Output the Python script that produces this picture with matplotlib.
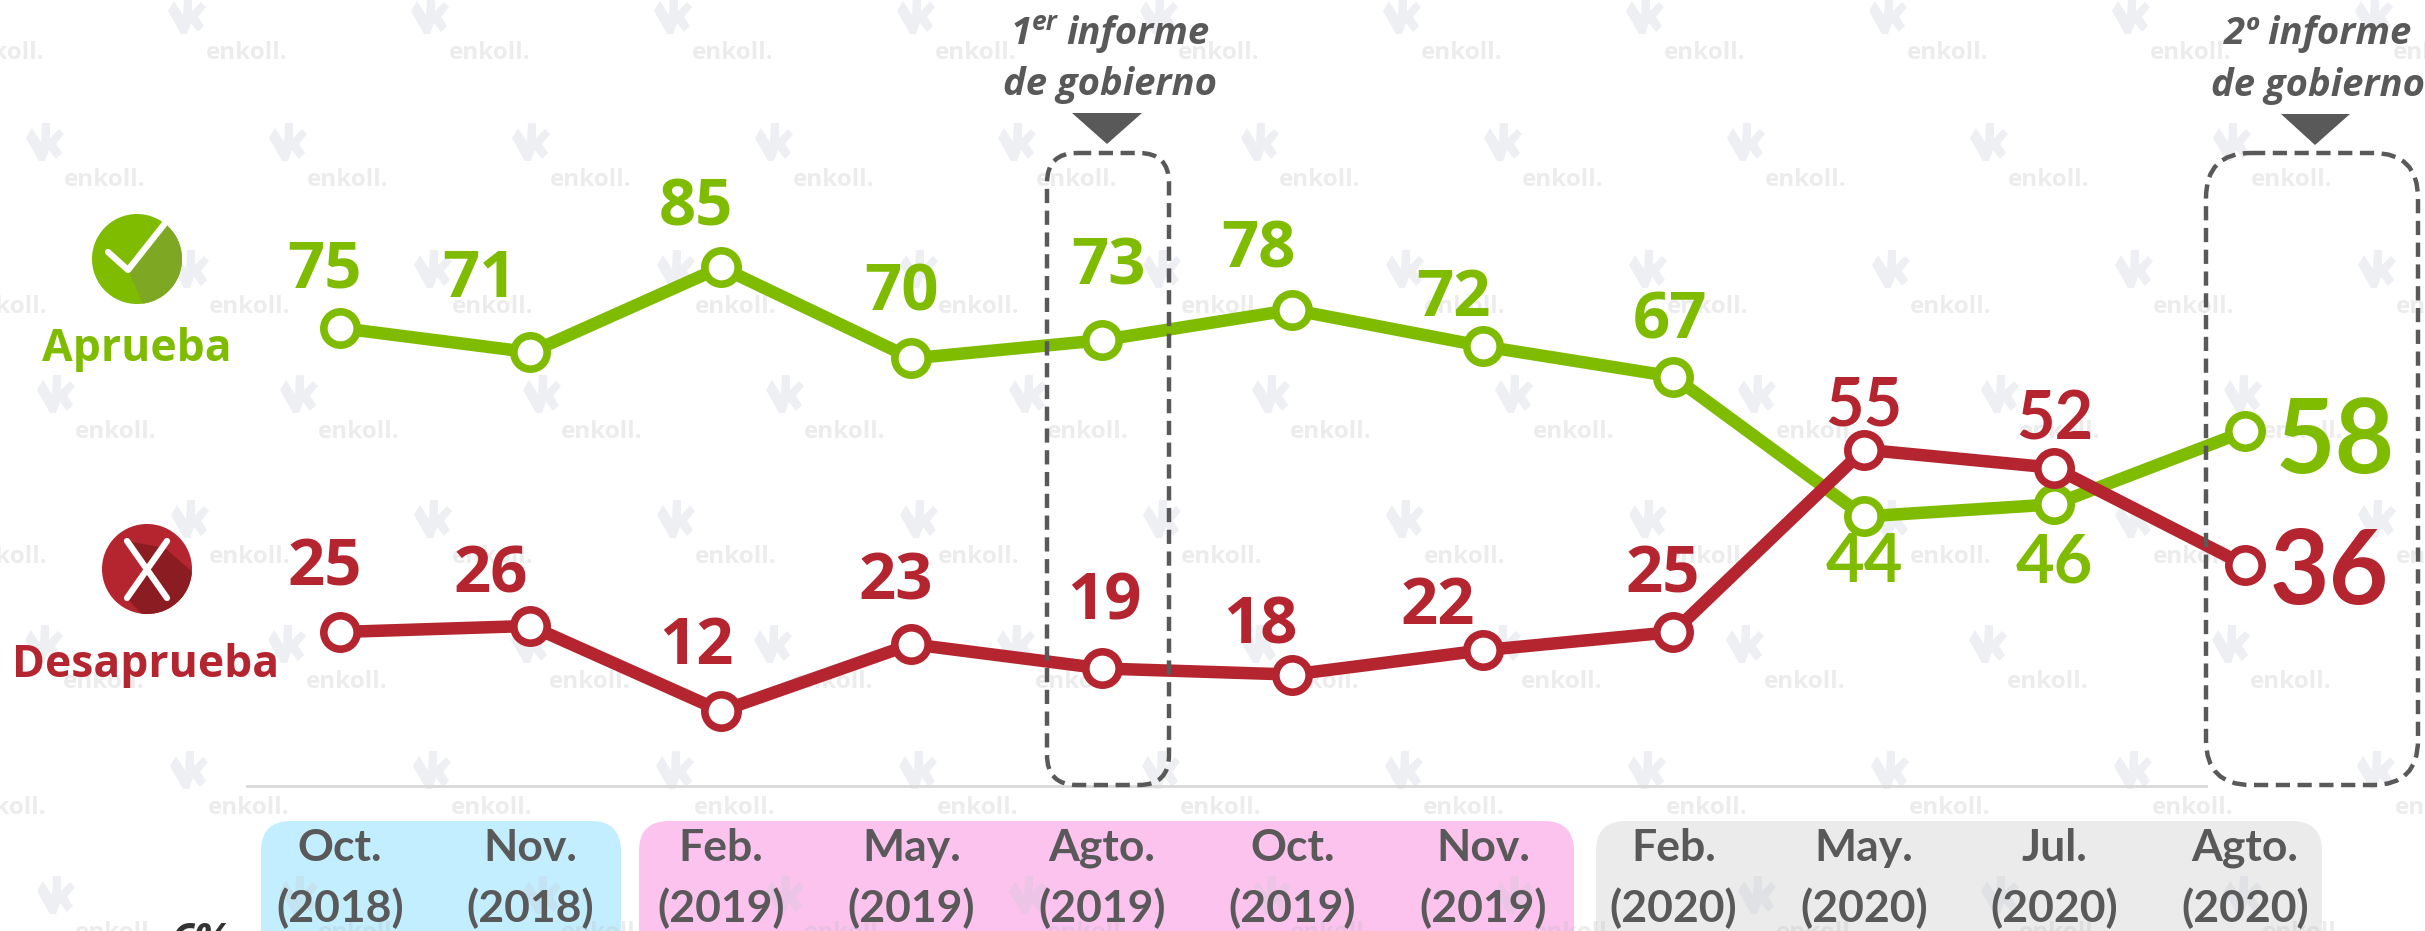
import numpy as np
import matplotlib
matplotlib.use('Agg')
import matplotlib.pyplot as plt
from matplotlib.patches import Circle, FancyBboxPatch, Polygon

meses = ['Oct.', 'Nov.', 'Feb.', 'May.', 'Agto.', 'Oct.', 'Nov.', 'Feb.', 'May.', 'Jul.', 'Agto.']
anios = ['(2018)', '(2018)', '(2019)', '(2019)', '(2019)', '(2019)', '(2019)', '(2020)', '(2020)', '(2020)', '(2020)']
aprueba = [75, 71, 85, 70, 73, 78, 72, 67, 44, 46, 58]
desaprueba = [25, 26, 12, 23, 19, 18, 22, 25, 55, 52, 36]

VERDE = '#7fbc00'
ROJO = '#b5252f'
GRIS = '#595959'
W, H = 2425, 931

# desplazamiento de cada etiqueta respecto a su punto, en pixeles
off_aprueba = [(-15, -57), (-51, -72), (-25, -58), (-10, -64), (7, -72), (-34, -59),
               (-29, -47), (-3, -55), (0, 47), (0, 59), (90, 12)]
off_desaprueba = [(-15, -63), (-40, -50), (-25, -64), (-16, -61), (2, -65), (-32, -48),
                  (-45, -43), (-11, -56), (0, -43), (0, -47), (84, 9)]

fig = plt.figure(figsize=(W / 100, H / 100), dpi=100, facecolor='white')


def capa_px(z):
    a = fig.add_axes([0, 0, 1, 1], zorder=z)
    a.set_xlim(0, W)
    a.set_ylim(H, 0)
    a.axis('off')
    return a


def caja(a, x0, y0, x1, y1, r, **kw):
    p = FancyBboxPatch((x0 + r, y0 + r), x1 - x0 - 2 * r, y1 - y0 - 2 * r,
                       boxstyle=f'round,pad={r},rounding_size={r}', **kw)
    a.add_patch(p)
    return p


fondo = capa_px(0)

# franjas de fechas
caja(fondo, 261, 821, 621, 960, 30, fc='#c3eeff', ec='none')
caja(fondo, 639, 821, 1574, 960, 30, fc='#fcc3ee', ec='none')
caja(fondo, 1596, 821, 2322, 960, 30, fc='#ebebeb', ec='none')

# marca de agua
logo = np.array([(-19, -4), (-13, -14), (-4, 0), (-3, -19), (5, -19), (5, -4), (14, -13), (19, -8),
                 (11, 2), (17, 11), (11, 17), (4, 8), (0, 19), (-6, 19)])
filas = [(15, 187), (142, 45), (269, 190), (394, 56), (519, 190), (644, 44), (770, 189), (895, 56)]
for y_f, x_f in filas:
    for k in range(-1, 11):
        x = x_f + 243 * k
        fondo.add_patch(Polygon(logo + (x, y_f), closed=True, fc='#c9ccd6', ec='none', alpha=0.3))
        fondo.text(x + 60, y_f + 38, 'enkoll.', family='Open Sans', fontweight='bold', fontsize=17.5,
                   color='#bbbbbb', alpha=0.27, ha='center', va='center')

fondo.plot([247, 2206], [786, 786], color='#d9d9d9', lw=2)

# fechas
x_px = [340 + 190.5 * i for i in range(len(meses))]
for x, m, a_ in zip(x_px, meses, anios):
    fondo.text(x, 848, m, family='Lato', fontweight='bold', fontsize=32, color=GRIS, ha='center', va='center')
    fondo.text(x, 908, a_, family='Lato', fontweight='bold', fontsize=32, color=GRIS, ha='center', va='center')

# texto cortado abajo a la izquierda
fondo.text(97, 962, 'ns/nc', family='Open Sans', style='italic', fontweight='bold', fontsize=31,
           color='#333333', ha='center', va='baseline')
fondo.text(200, 954, '6%', family='Open Sans', style='italic', fontweight='bold', fontsize=31,
           color='#333333', ha='center', va='baseline')

# grafica
ax = fig.add_axes([0, 0, 1, 1], zorder=1)
ax.patch.set_alpha(0)
ax.set_xlim(-340 / 190.5, (W - 340) / 190.5)
ax.set_ylim((784 - H) / 6.08, 784 / 6.08)
ax.axis('off')
xs = np.arange(len(meses))
for vals, color, offs in [(aprueba, VERDE, off_aprueba), (desaprueba, ROJO, off_desaprueba)]:
    ax.plot(xs, vals, color=color, lw=9, marker='o', ms=24, mfc='white', mec=color, mew=5.5,
            solid_capstyle='round')
    for i, (v, (dx, dy)) in enumerate(zip(vals, offs)):
        grande = i == len(vals) - 1
        ax.annotate(str(v), (i, v), xytext=(dx * 0.72, -dy * 0.72), textcoords='offset points',
                    family='Lato' if i >= 8 else 'Open Sans', fontweight='bold',
                    fontsize=74 if grande else (48 if i >= 8 else 47),
                    color=color, ha='center', va='center')

# cajas punteadas e informes
capa = capa_px(2)
for x0, x1, r in [(1047, 1169, 30), (2206, 2418, 45)]:
    caja(capa, x0, 153, x1, 785, r, fc='none', ec=GRIS, lw=3.2, ls=(0, (3.2, 1.7)))
capa.add_patch(Polygon([(1072, 113), (1142, 113), (1107, 144)], fc=GRIS, ec='none'))
capa.add_patch(Polygon([(2281, 114), (2350, 114), (2315, 145)], fc=GRIS, ec='none'))

kw_inf = dict(family='Open Sans', style='italic', fontweight='bold', color=GRIS, va='center')
capa.text(1110, 85, 'de gobierno', fontsize=27.5, ha='center', **kw_inf)
capa.text(1011, 34, '1', fontsize=27.5, ha='left', **kw_inf)
capa.text(1032, 22, 'er', fontsize=19, ha='left', **kw_inf)
capa.text(1066, 34, 'informe', fontsize=27.5, ha='left', **kw_inf)
capa.text(2318, 34, '2º informe', fontsize=27.5, ha='center', **kw_inf)
capa.text(2318, 86, 'de gobierno', fontsize=27.5, ha='center', **kw_inf)

# iconos
c1 = Circle((137, 259), 45, fc=VERDE, ec='none')
capa.add_patch(c1)
s1 = Polygon([(166, 222), (128, 270), (150, 320), (200, 320), (200, 250)], fc='#7ea823', ec='none')
capa.add_patch(s1)
s1.set_clip_path(c1)
capa.plot([108, 128, 166], [252, 270, 222], color='white', lw=4.5, solid_capstyle='round', solid_joinstyle='round')

c2 = Circle((147, 569), 45, fc=ROJO, ec='none')
capa.add_patch(c2)
s2 = Polygon([(127, 541), (147, 569), (127, 598), (165, 640), (210, 600), (190, 570), (165, 548)],
             fc='#8a1c22', ec='none')
capa.add_patch(s2)
s2.set_clip_path(c2)
capa.plot([127, 167], [541, 598], color='white', lw=4.5, solid_capstyle='round')
capa.plot([167, 127], [541, 598], color='white', lw=4.5, solid_capstyle='round')

capa.text(137, 350, 'Aprueba', family='Open Sans', fontweight='bold', fontsize=32, color=VERDE,
          ha='center', va='center')
capa.text(146, 666, 'Desaprueba', family='Open Sans', fontweight='bold', fontsize=32, color=ROJO,
          ha='center', va='center')

fig.savefig('out.png', dpi=100)
